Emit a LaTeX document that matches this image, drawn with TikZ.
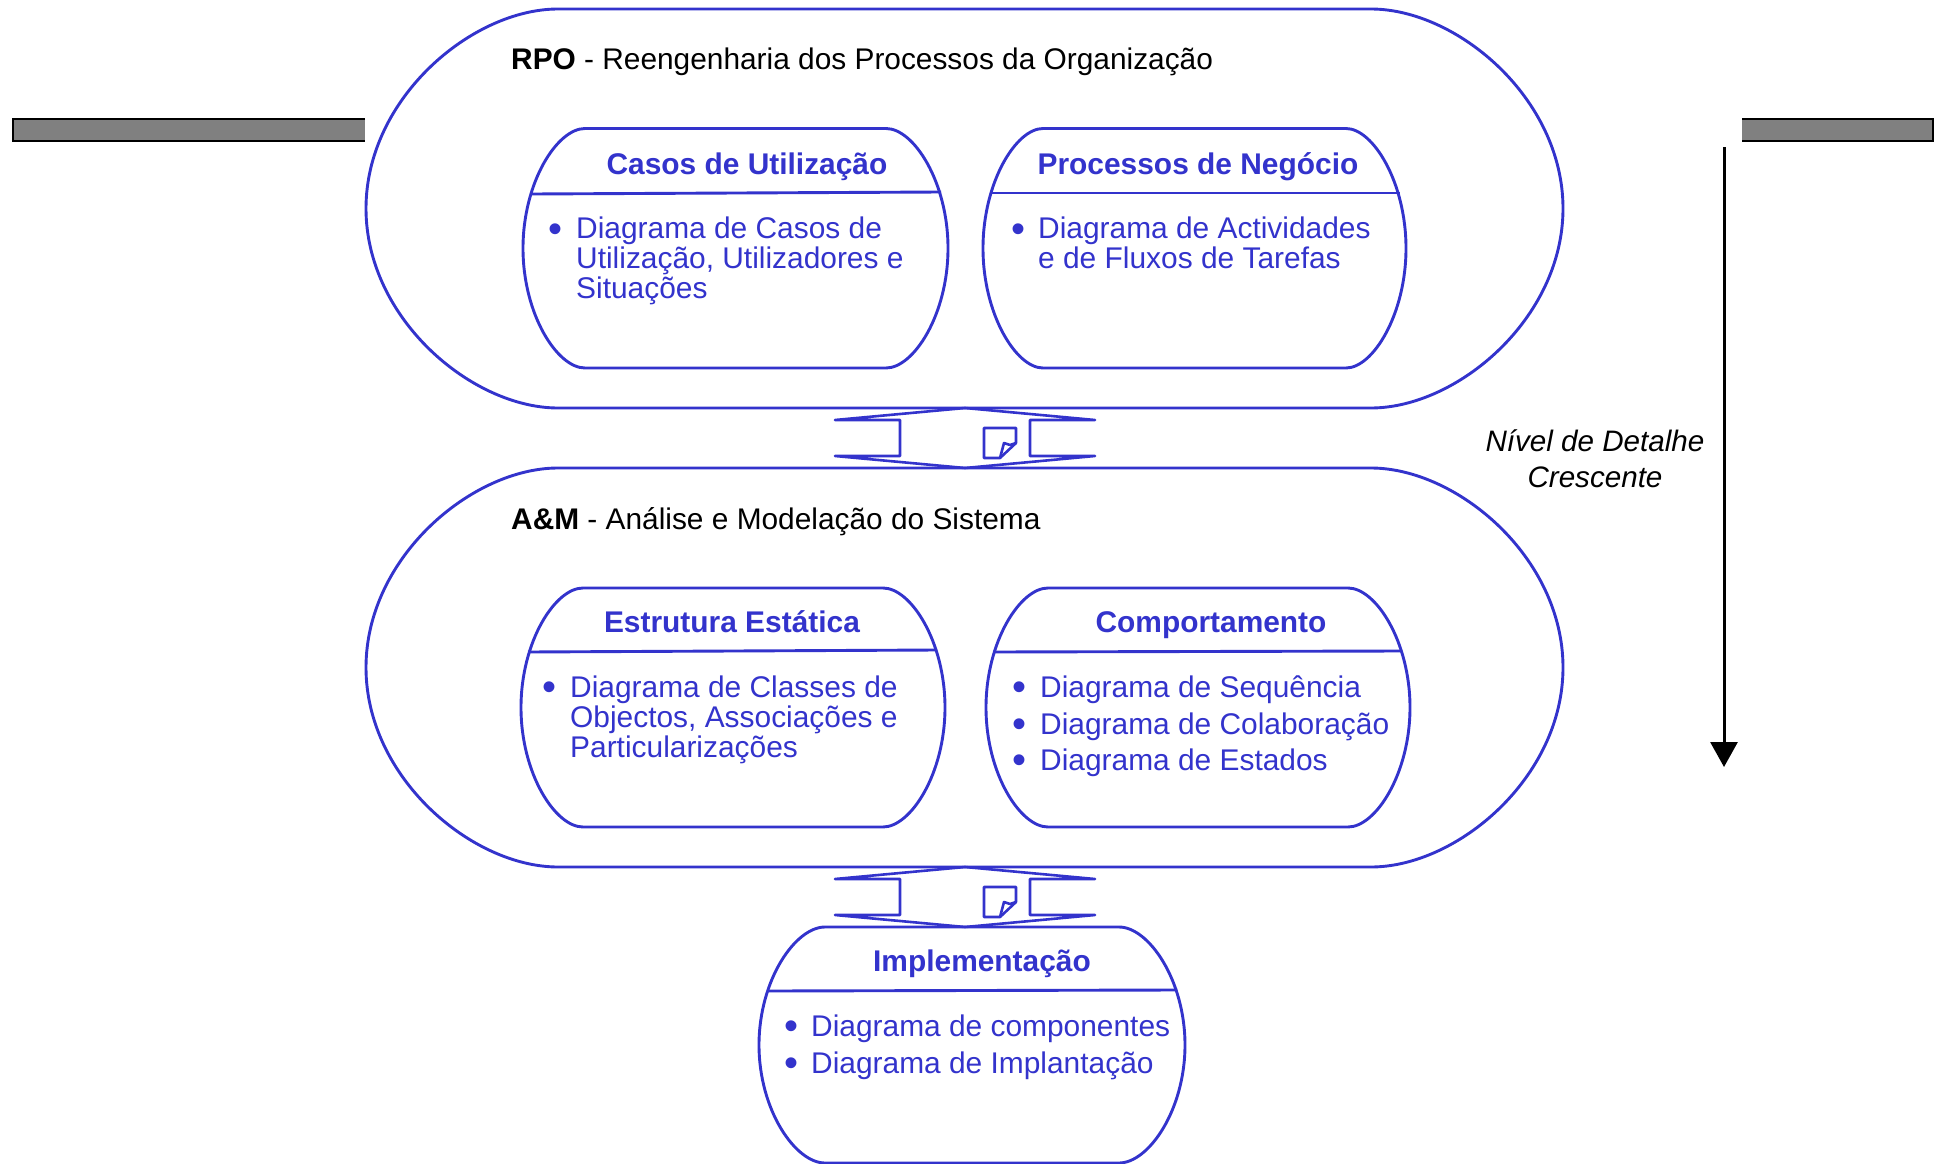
\documentclass[tikz,border=0pt]{standalone}
\usepackage{fontspec}
\setmainfont{Liberation Sans}
\usetikzlibrary{arrows.meta}
\definecolor{dblue}{HTML}{3333CC}
\definecolor{bargray}{HTML}{808080}
\tikzset{
  blobline/.style={draw=dblue,line width=2.9pt,line join=round},
  flowline/.style={draw=dblue,line width=2.6pt,line join=round},
  blackhead/.style={font=\fontsize{29.85}{30}\selectfont,text=black,anchor=base west,inner sep=0pt},
  headtxt/.style={font=\fontsize{29.9}{30}\selectfont\bfseries,text=dblue,anchor=base,inner sep=0pt},
  itemtxt/.style={font=\fontsize{29.9}{30}\selectfont,text=dblue,anchor=base west,inner sep=0pt},
  bullettxt/.style={font=\fontsize{40}{40}\selectfont,text=dblue,anchor=base west,inner sep=0pt},
  notetxt/.style={font=\fontsize{29.6}{30}\selectfont\itshape,text=black,anchor=base,inner sep=0pt},
  barfill/.style={fill=bargray,draw=none},
  barline/.style={draw=black,line width=2.4pt},
}
\newcommand\blob[5]{% x1 y1 x2 y2 rx
  \pgfmathsetmacro\ka{0.4477*#5}
  \pgfmathsetmacro\ym{(#2+#4)/2}
  \pgfmathsetmacro\kb{0.4477*(#4-#2)/2}
  \pgfmathsetmacro\xa{#1+#5}
  \pgfmathsetmacro\xb{#3-#5}
  \draw[blobline] (#1,\ym) .. controls (#1,#2+\kb) and (\xa-\ka,#2) .. (\xa,#2)
    -- (\xb,#2) .. controls (\xb+\ka,#2) and (#3,#2+\kb) .. (#3,\ym)
    .. controls (#3,#4-\kb) and (\xb+\ka,#4) .. (\xb,#4)
    -- (\xa,#4) .. controls (\xa-\ka,#4) and (#1,#4-\kb) .. (#1,\ym) -- cycle;
}
\newcommand\flow[1]{% y of top
  \begin{scope}[yshift=-#1pt]
  \draw[flowline] (965,0) -- (835,12) -- (900,12) -- (900,48) -- (835,48) -- (965,60)
     -- (1095,48) -- (1030,48) -- (1030,12) -- (1095,12) -- cycle;
  \draw[flowline] (1016,20) -- (984,20) -- (984,50) -- (1000,50) -- (1016,35) -- cycle;
  \draw[flowline] (1000,50) -- (1004,35) -- (1010,37) -- (1016,35);
  \end{scope}
}
\begin{document}
\begin{tikzpicture}[x=1pt,y=-1pt]
\useasboundingbox (0,0) rectangle (1939,1164);
% grey bars
\fill[barfill] (13,119) rectangle (365,141);
\draw[barline] (365,119) -- (13,119) -- (13,141) -- (365,141);
\fill[barfill] (1742,119) rectangle (1933,141);
\draw[barline] (1742,119) -- (1933,119) -- (1933,141) -- (1742,141);
% outer blobs
\blob{366}{9}{1563}{408}{192}
\blob{366}{468}{1563}{867}{192}
% inner blobs
\blob{523}{128.5}{948}{368}{62}
\draw[blobline] (532,194) -- (941,192);
\blob{983}{128.5}{1406}{368}{60}
\draw[blobline] (990,193) -- (1400,193);
\blob{521}{588}{945}{827}{62}
\draw[blobline] (528,652) -- (937,650);
\blob{986}{588}{1410}{827}{62}
\draw[blobline] (993,652) -- (1402,651);
\blob{759}{927}{1185}{1163}{66}
\draw[blobline] (768,991) -- (1177,990);
% flow arrows
\flow{408}
\flow{867}
% titles
\node[blackhead] (rpo) at (511,70) {\textbf{RPO} - Reengenharia dos Processos da Organização};
\node[blackhead] (am) at (511,529) {\textbf{A\&M} - Análise e Modelação do Sistema};
% headings
\node[headtxt] (h1) at (747,174) {Casos de Utilização};
\node[headtxt] (h2) at (1198,174) {Processos de Negócio};
\node[headtxt] (h3) at (732,632) {Estrutura Estática};
\node[headtxt] (h4) at (1211,632) {Comportamento};
\node[headtxt] (h5) at (982,971) {Implementação};
% lists
\node[bullettxt] (b1) at (548,242) {•};
\node[itemtxt] (t1a) at (576,238) {Diagrama de Casos de};
\node[itemtxt] (t1b) at (576,268) {Utilização, Utilizadores e};
\node[itemtxt] (t1c) at (576,298) {Situações};
\node[bullettxt] (b2) at (1011,242) {•};
\node[itemtxt] (t2a) at (1038,238) {Diagrama de Actividades};
\node[itemtxt] (t2b) at (1038,268) {e de Fluxos de Tarefas};
\node[bullettxt] (b3) at (542,700) {•};
\node[itemtxt] (t3a) at (570,697) {Diagrama de Classes de};
\node[itemtxt] (t3b) at (570,727) {Objectos, Associações e};
\node[itemtxt] (t3c) at (570,757) {Particularizações};
\node[bullettxt] (b4a) at (1012,700) {•};
\node[itemtxt] (t4a) at (1040,697) {Diagrama de Sequência};
\node[bullettxt] (b4b) at (1012,737) {•};
\node[itemtxt] (t4b) at (1040,734) {Diagrama de Colaboração};
\node[bullettxt] (b4c) at (1012,773) {•};
\node[itemtxt] (t4c) at (1040,770) {Diagrama de Estados};
\node[bullettxt] (b5a) at (784,1039) {•};
\node[itemtxt] (t5a) at (811,1036) {Diagrama de componentes};
\node[bullettxt] (b5b) at (784,1076) {•};
\node[itemtxt] (t5b) at (811,1073) {Diagrama de Implantação};
% level note
\node[notetxt] (n1) at (1595,451) {Nível de Detalhe};
\node[notetxt] (n2) at (1595,487) {Crescente};
\coordinate (arrtop) at (1724,147);
\coordinate (arrend) at (1724,767);
\draw[black,line width=3pt,-{Triangle[length=25pt,width=27pt]}] (arrtop) -- (arrend);
\end{tikzpicture}
\end{document}
